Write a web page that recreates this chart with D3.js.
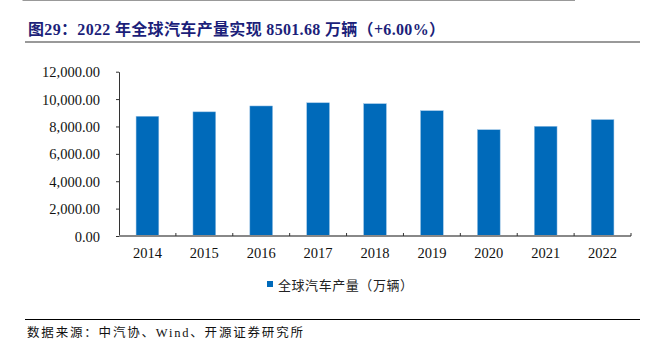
<!DOCTYPE html>
<html><head><meta charset="utf-8">
<script src="https://cdn.jsdelivr.net/npm/d3@7"></script>
<style>body{margin:0;background:#fff}svg{display:block}</style>
</head><body>
<svg id="c" width="645" height="348"></svg>
<script>
const years = ["2014","2015","2016","2017","2018","2019","2020","2021","2022"];
const production = [8747, 9068, 9498, 9730, 9663, 9152, 7762, 8015, 8501.68];
const yTicks = [0, 2000, 4000, 6000, 8000, 10000, 12000];
const titleText = "图29：2022 年全球汽车产量实现 8501.68 万辆（+6.00%）";
const legendText = "全球汽车产量（万辆）";
const sourceText = "数据来源：中汽协、Wind、开源证券研究所";

const svg = d3.select("#c");
const serif = "'Liberation Serif','Times New Roman',serif";
const cjk = "'Noto Sans CJK SC','Noto Sans CJK JP',sans-serif";

// top rule
svg.append("line").attr("x1",22.5).attr("x2",575).attr("y1",0.5).attr("y2",0.5).attr("stroke","#999").attr("stroke-width",1);
// title
svg.append("text").attr("x",28).attr("y",34.5).attr("fill","#1c1f7a")
  .attr("font-family", serif + "," + cjk).attr("font-weight","bold").attr("font-size",16)
  .attr("textLength",417).attr("lengthAdjust","spacing")
  .text(titleText);
svg.append("line").attr("x1",25).attr("x2",640).attr("y1",42).attr("y2",42).attr("stroke","#777").attr("stroke-width",1.6);

const x0 = 119, x1 = 631, yTop = 71.7, yBot = 236;
const x = d3.scaleBand().domain(years).range([x0, x1]).paddingInner(0.6).paddingOuter(0.3);
const xa = d3.scaleBand().domain(years).range([x0, x1]);
const y = d3.scaleLinear().domain([0, 12000]).range([yBot, yTop]);

svg.append("g").selectAll("rect").data(years).join("rect")
  .attr("x", d => x(d)).attr("width", x.bandwidth())
  .attr("y", (d,i) => y(production[i])).attr("height", (d,i) => yBot - y(production[i]))
  .attr("fill", "#006ABA").attr("stroke","#9cc3e6").attr("stroke-width",0.5);

// y axis
const ya = svg.append("g").attr("transform", `translate(${x0},0)`)
  .call(d3.axisLeft(y).tickValues(yTicks).tickSize(3).tickSizeOuter(0).tickPadding(16)
    .tickFormat(d => d3.format(",.2f")(d)));
ya.select(".domain").attr("stroke","#333");
ya.selectAll(".tick line").attr("stroke","#333");
ya.selectAll("text").attr("font-family", serif).attr("font-size",14.5).attr("fill","#111").attr("dy","0.35em");

// x axis
const xg = svg.append("g").attr("transform", `translate(0,${yBot})`);
xg.append("line").attr("x1",x0).attr("x2",x1).attr("y1",0).attr("y2",0).attr("stroke","#888").attr("stroke-width",2);
xg.selectAll("line.tk").data(years.slice(1).concat(["end"])).join("line").attr("class","tk")
  .attr("x1", (d,i) => x0 + xa.step()*(i+1)).attr("x2", (d,i) => x0 + xa.step()*(i+1))
  .attr("y1",-3).attr("y2",0).attr("stroke","#333");
xg.selectAll("text").data(years).join("text")
  .attr("x", d => xa(d) + xa.bandwidth()/2).attr("y", 22).attr("text-anchor","middle")
  .attr("font-family", serif).attr("font-size",14.5).attr("fill","#111").text(d => d);

// legend
svg.append("rect").attr("x",267).attr("y",281).attr("width",6).attr("height",6).attr("fill","#006ABA");
svg.append("text").attr("x",278).attr("y",289.5).attr("font-family",cjk).attr("font-size",13).attr("fill","#222")
  .attr("textLength",135).attr("lengthAdjust","spacing").text(legendText);

// source
svg.append("line").attr("x1",25).attr("x2",640).attr("y1",319.5).attr("y2",319.5).attr("stroke","#000").attr("stroke-width",1);
svg.append("text").attr("x",27).attr("y",336.5).attr("font-family", serif + "," + cjk).attr("font-size",12.5).attr("fill","#111")
  .attr("textLength",276).attr("lengthAdjust","spacing").text(sourceText);
</script>
</body></html>
